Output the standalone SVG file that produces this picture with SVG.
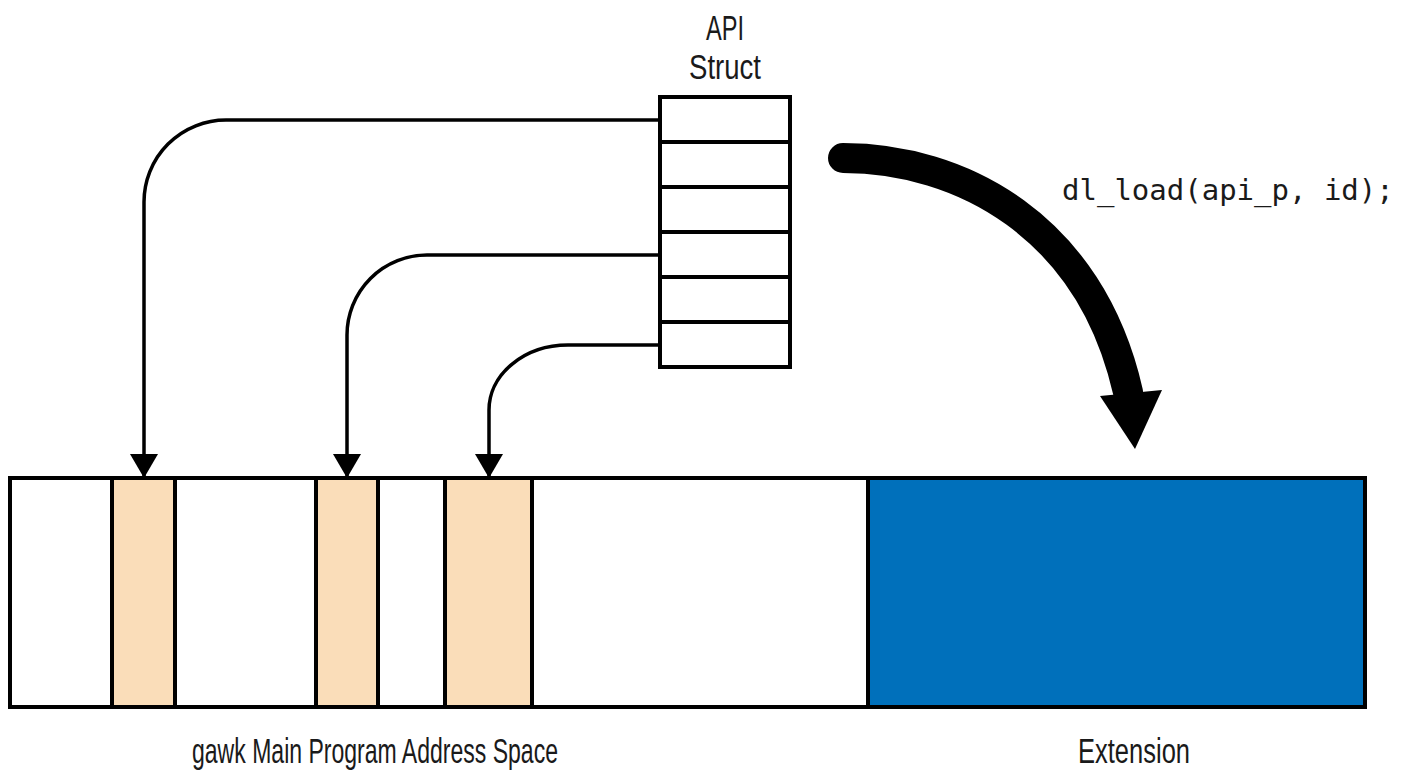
<svg xmlns="http://www.w3.org/2000/svg" width="1408" height="771" viewBox="0 0 1408 771">
<defs>
<style>
.lbl{font-family:"Liberation Sans",Arial,sans-serif;font-size:35px;fill:#1a1a1a;text-anchor:middle}
.code{font-family:"DejaVu Sans Mono","Liberation Mono",monospace;font-size:29px;fill:#1a1a1a}
.conn{fill:none;stroke:#000;stroke-width:3.5}
.cell{fill:#fff;stroke:#000;stroke-width:4}
.seg{stroke:#000;stroke-width:4}
</style>
<marker id="ah" markerWidth="24" markerHeight="28" refX="23" refY="14" orient="auto" markerUnits="userSpaceOnUse" viewBox="0 0 24 28">
<path d="M0,0 L24,14 L0,28 Z" fill="#000"/>
</marker>
</defs>
<rect width="1408" height="771" fill="#fff"/>

<g id="api-struct">
<text class="lbl" x="725" y="40" textLength="38" lengthAdjust="spacingAndGlyphs">API</text>
<text class="lbl" x="725" y="79" textLength="72" lengthAdjust="spacingAndGlyphs">Struct</text>
<rect class="cell" x="660" y="97" width="130" height="45"/>
<rect class="cell" x="660" y="142" width="130" height="45"/>
<rect class="cell" x="660" y="187" width="130" height="45"/>
<rect class="cell" x="660" y="232" width="130" height="45"/>
<rect class="cell" x="660" y="277" width="130" height="45"/>
<rect class="cell" x="660" y="322" width="130" height="45"/>
</g>

<g id="address-space">
<rect x="10" y="478" width="858" height="229" fill="#fff" class="seg"/>
<rect x="112" y="478" width="63" height="229" fill="#FADDB9" class="seg"/>
<rect x="316" y="478" width="62" height="229" fill="#FADDB9" class="seg"/>
<rect x="445" y="478" width="87" height="229" fill="#FADDB9" class="seg"/>
<text class="lbl" x="375" y="763" textLength="366" lengthAdjust="spacingAndGlyphs">gawk Main Program Address Space</text>
</g>

<g id="extension">
<rect x="868" y="478" width="497" height="229" fill="#0070BB" class="seg"/>
<text class="lbl" x="1134" y="763" textLength="112" lengthAdjust="spacingAndGlyphs">Extension</text>
</g>

<g id="connectors">
<path class="conn" d="M660,120 H226 A82,82 0 0 0 144,202 V477" marker-end="url(#ah)"/>
<path class="conn" d="M660,255 H427 A80,80 0 0 0 347,335 V477" marker-end="url(#ah)"/>
<path class="conn" d="M660,345 H568 A79,65 0 0 0 489,410 V477" marker-end="url(#ah)"/>
<path d="M843,158 C960,158 1090,225 1128,392" fill="none" stroke="#000" stroke-width="30" stroke-linecap="round"/>
<path d="M1100,396 L1162,390 L1135,449 Z" fill="#000"/>
</g>

<g id="call-label">
<text class="code" x="1062" y="200">dl_load(api_p, id);</text>
</g>
</svg>
